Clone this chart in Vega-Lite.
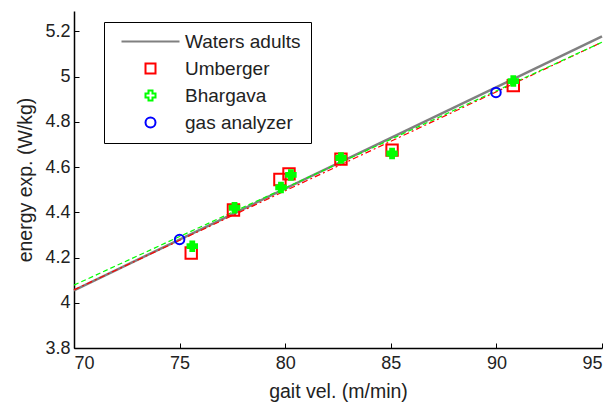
{
  "$schema": "https://vega.github.io/schema/vega-lite/v6.json",
  "width": 528,
  "height": 337,
  "autosize": "none",
  "padding": {"left": 74, "top": 11, "right": 10, "bottom": 56},
  "background": "white",
  "config": {
    "view": {"stroke": null},
    "font": "Liberation Sans",
    "axis": {
      "grid": false,
      "domainColor": "black",
      "tickColor": "black",
      "labelColor": "#222",
      "titleColor": "#222",
      "labelFont": "Liberation Sans",
      "titleFont": "Liberation Sans",
      "labelFontSize": 18,
      "titleFontSize": 19.5,
      "titleFontWeight": "normal",
      "tickSize": -5,
      "domainWidth": 1.5
    }
  },
  "datasets": {
    "fits": [
      {"series": "Waters adults", "vel": 70, "energy": 4.055},
      {"series": "Waters adults", "vel": 95, "energy": 5.178},
      {"series": "Umberger fit", "vel": 70, "energy": 4.057},
      {"series": "Umberger fit", "vel": 95, "energy": 5.152},
      {"series": "Bhargava fit", "vel": 70, "energy": 4.078},
      {"series": "Bhargava fit", "vel": 95, "energy": 5.152}
    ],
    "points": [
      {"series": "Umberger", "vel": 75.55, "energy": 4.22},
      {"series": "Umberger", "vel": 77.55, "energy": 4.41},
      {"series": "Umberger", "vel": 79.75, "energy": 4.545},
      {"series": "Umberger", "vel": 80.18, "energy": 4.57},
      {"series": "Umberger", "vel": 82.64, "energy": 4.635},
      {"series": "Umberger", "vel": 85.06, "energy": 4.675},
      {"series": "Umberger", "vel": 90.8, "energy": 4.96},
      {"series": "Bhargava", "vel": 75.6, "energy": 4.25},
      {"series": "Bhargava", "vel": 77.6, "energy": 4.42},
      {"series": "Bhargava", "vel": 79.8, "energy": 4.51},
      {"series": "Bhargava", "vel": 80.27, "energy": 4.565},
      {"series": "Bhargava", "vel": 82.64, "energy": 4.64},
      {"series": "Bhargava", "vel": 85.06, "energy": 4.66},
      {"series": "Bhargava", "vel": 90.8, "energy": 4.98},
      {"series": "gas analyzer", "vel": 75.0, "energy": 4.28},
      {"series": "gas analyzer", "vel": 89.98, "energy": 4.93}
    ]
  },
  "layer": [
    {
      "data": {"name": "fits"},
      "transform": [{"filter": "datum.series === 'Waters adults'"}],
      "mark": {"type": "line", "color": "#808080", "strokeWidth": 2.5},
      "encoding": {
        "x": {"field": "vel", "type": "quantitative", "scale": {"domain": [70, 95], "nice": false, "zero": false},
          "axis": {"values": [70, 75, 80, 85, 90, 95], "title": "gait vel. (m/min)", "labelPadding": 11, "titlePadding": 10}},
        "y": {"field": "energy", "type": "quantitative", "scale": {"domain": [3.8, 5.29], "nice": false, "zero": false},
          "axis": {"values": [3.8, 4, 4.2, 4.4, 4.6, 4.8, 5, 5.2], "format": "~g", "title": "energy exp. (W/kg)", "labelPadding": 9, "titlePadding": 9}}
      }
    },
    {
      "data": {"name": "fits"},
      "transform": [{"filter": "datum.series === 'Umberger fit'"}],
      "mark": {"type": "line", "color": "#ff0000", "strokeWidth": 1.2, "strokeDash": [6, 3, 2, 3]},
      "encoding": {
        "x": {"field": "vel", "type": "quantitative"},
        "y": {"field": "energy", "type": "quantitative"}
      }
    },
    {
      "data": {"name": "fits"},
      "transform": [{"filter": "datum.series === 'Bhargava fit'"}],
      "mark": {"type": "line", "color": "#00ff00", "strokeWidth": 1.2, "strokeDash": [5, 3]},
      "encoding": {
        "x": {"field": "vel", "type": "quantitative"},
        "y": {"field": "energy", "type": "quantitative"}
      }
    },
    {
      "data": {"name": "points"},
      "mark": {"type": "point", "filled": false, "strokeWidth": 2, "opacity": 1},
      "encoding": {
        "x": {"field": "vel", "type": "quantitative"},
        "y": {"field": "energy", "type": "quantitative"},
        "color": {
          "field": "series", "type": "nominal",
          "scale": {"domain": ["Waters adults", "Umberger", "Bhargava", "gas analyzer"], "range": ["#808080", "#ff0000", "#00ff00", "#0000ff"]},
          "legend": {
            "title": null,
            "orient": "none",
            "legendX": 30,
            "legendY": 11,
            "direction": "vertical",
            "strokeColor": "black",
            "fillColor": "white",
            "padding": 10,
            "labelFont": "Liberation Sans",
            "labelFontSize": 19,
            "labelColor": "#222",
            "labelOffset": 25,
            "symbolOffset": 27,
            "rowPadding": 7,
            "symbolSize": 100,
            "symbolStrokeWidth": 2,
            "encode": {
              "symbols": {
                "update": {
                  "fill": {"signal": "datum.value === 'Bhargava' ? '#00ff00' : 'transparent'"},
                  "strokeWidth": {"signal": "datum.value === 'Waters adults' ? 3 : 2"}
                }
              }
            }
          }
        },
        "shape": {
          "field": "series", "type": "nominal",
          "scale": {"domain": ["Waters adults", "Umberger", "Bhargava", "gas analyzer"], "range": ["M-5.8,0H5.8", "square", "cross", "circle"]},
          "legend": null
        },
        "fill": {
          "condition": {"test": "datum.series === 'Bhargava'", "value": "#00ff00"},
          "value": "transparent"
        },
        "size": {
          "condition": {"test": "datum.series === 'Umberger'", "value": 130},
          "value": 90
        }
      }
    }
  ]
}
